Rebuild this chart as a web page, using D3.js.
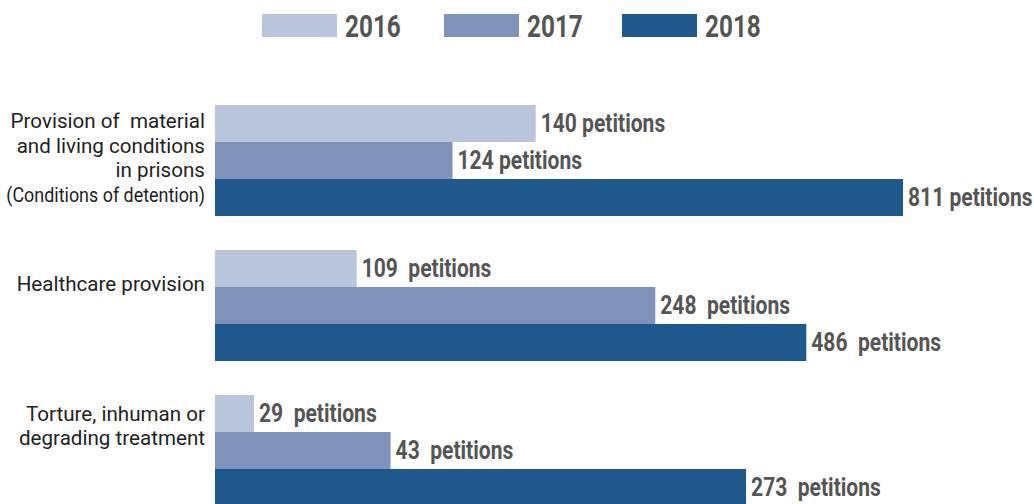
<!DOCTYPE html>
<html>

<head>
    <meta charset="UTF-8">
    <title>Petitions</title>
    <style>
        body { margin: 0; background: #fff; }
        svg { display: block; }
        text { white-space: pre; }
    </style>
</head>

<body>

    <svg id="chart"></svg>

    <script src="https://cdn.jsdelivr.net/npm/d3@7"></script>
    <script>
        const width = 1034;
        const height = 504;

        const years = ['2016', '2017', '2018'];
        const categories = [
            'Provision of material and living conditions in prisons',
            'Healthcare provision',
            'Torture, inhuman or degrading treatment'
        ];
        const categoryLines = [
            ['Provision of  material', 'and living conditions', 'in prisons', '(Conditions of detention)'],
            ['Healthcare provision'],
            ['Torture, inhuman or', 'degrading treatment']
        ];

        // numbers printed next to the bars
        const petitions2016 = [140, 109, 29];
        const petitions2017 = [124, 248, 43];
        const petitions2018 = [811, 486, 273];

        // the original bars are not drawn in proportion to their labels,
        // so these are the lengths as drawn, read off in the units of the 811 bar
        const drawn2016 = [378, 167, 46];
        const drawn2017 = [280, 519, 207];
        const drawn2018 = [811, 697, 626];

        // label text keeps the spacing of the original
        const labelText2016 = ['140 petitions', '109  petitions', '29  petitions'];
        const labelText2017 = ['124 petitions', '248  petitions', '43  petitions'];
        const labelText2018 = ['811 petitions', '486  petitions', '273  petitions'];

        const colors = ['#b9c4dd', '#7f92ba', '#1f588c'];

        const rows = categories.map((c, i) => ({
            category: c,
            lines: categoryLines[i],
            bars: [
                { year: '2016', value: petitions2016[i], drawn: drawn2016[i], text: labelText2016[i] },
                { year: '2017', value: petitions2017[i], drawn: drawn2017[i], text: labelText2017[i] },
                { year: '2018', value: petitions2018[i], drawn: drawn2018[i], text: labelText2018[i] }
            ]
        }));

        const svg = d3.select('#chart')
            .attr('width', width)
            .attr('height', height);

        const x = d3.scaleLinear()
            .domain([0, 811])
            .range([215, 903]);

        const y = d3.scaleBand()
            .domain(categories)
            .range([105, 506])
            .paddingInner(0.2345);

        const yInner = d3.scaleBand()
            .domain(years)
            .range([0, y.bandwidth()]);

        const color = d3.scaleOrdinal()
            .domain(years)
            .range(colors);

        // legend
        const legendX = [262, 444, 622];
        const legend = svg.append('g')
            .attr('class', 'legend')
            .selectAll('g')
            .data(years)
            .enter()
            .append('g')
            .attr('transform', (d, i) => `translate(${legendX[i]},14)`);
        legend.append('rect')
            .attr('width', 75)
            .attr('height', 23)
            .style('fill', d => color(d));
        legend.append('text')
            .attr('transform', 'translate(83,22.5) scale(0.76,1)')
            .text(d => d)
            .style('font-family', 'Roboto')
            .style('font-weight', 700)
            .style('font-size', '32px')
            .style('fill', '#555555');

        // groups
        const groups = svg.append('g')
            .attr('class', 'groups')
            .selectAll('g')
            .data(rows)
            .enter()
            .append('g')
            .attr('transform', d => `translate(0,${y(d.category)})`);

        groups.selectAll('rect')
            .data(d => d.bars)
            .enter()
            .append('rect')
            .attr('x', x(0))
            .attr('y', d => yInner(d.year))
            .attr('width', d => x(d.drawn) - x(0))
            .attr('height', yInner.bandwidth())
            .style('fill', d => color(d.year));

        groups.selectAll('text.value')
            .data(d => d.bars)
            .enter()
            .append('text')
            .attr('class', 'value')
            .attr('transform', d => `translate(${x(d.drawn) + 5},${yInner(d.year) + yInner.bandwidth() / 2 + 8.5}) scale(0.81,1)`)
            .text(d => d.text)
            .style('font-family', 'Roboto')
            .style('font-weight', 700)
            .style('font-size', '26px')
            .style('fill', '#555555');

        // category labels, first baseline relative to the group top
        const firstBaseline = [23, 40.7, 25.7];
        const lineHeight = 24.6;
        groups.each(function (d, i) {
            const g = d3.select(this);
            d.lines.forEach((line, j) => {
                const condensed = line.startsWith('(');
                g.append('text')
                    .attr('transform', `translate(205,${firstBaseline[i] + j * lineHeight})` + (condensed ? ' scale(0.87,1)' : ''))
                    .attr('text-anchor', 'end')
                    .text(line)
                    .style('font-family', 'Roboto')
                    .style('font-size', '20.6px')
                    .style('fill', '#222222');
            });
        });
    </script>
</body>

</html>
